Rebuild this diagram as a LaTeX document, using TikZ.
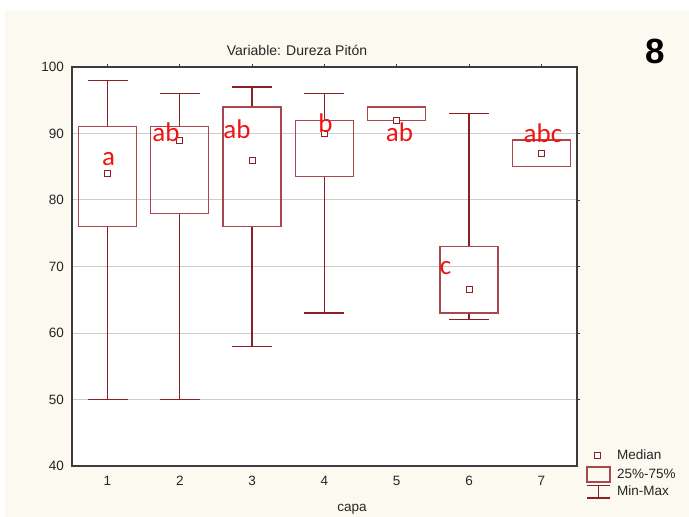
\documentclass[tikz,border=0pt]{standalone}
\usepackage{fontspec}
\setmainfont{Liberation Sans}
\newfontfamily\carlito{Carlito}
\definecolor{cream}{RGB}{252,249,240}
\definecolor{boxred}{RGB}{170,70,78}
\definecolor{whiskred}{RGB}{140,30,38}
\definecolor{gridgray}{RGB}{205,205,205}
\definecolor{framegray}{RGB}{60,60,60}
\definecolor{lettred}{RGB}{240,20,20}
\tikzset{
  boxline/.style={draw=boxred, line width=1.3bp},
  whiskline/.style={draw=whiskred, line width=1.3bp},
  medsq/.style={draw=whiskred, fill=white, line width=1bp},
  lbl/.style={font=\fontsize{13.5bp}{15bp}\selectfont, text=black!85, inner sep=0},
  grp/.style={font=\carlito\fontsize{27bp}{30bp}\selectfont, text=lettred, inner sep=0, anchor=base},
}
\begin{document}
\begin{tikzpicture}[x=1bp, y=-1bp]
\useasboundingbox (0,0) rectangle (689,517);
\fill[white] (0,0) rectangle (689,517);
\fill[cream] (5,10) rectangle (689,517);
% plot area
\fill[white] (72,67) rectangle (577,466);
\foreach \v in {50,60,70,80,90}{
  \draw[gridgray, line width=1bp] (72,{732-6.65*\v}) -- (577,{732-6.65*\v});
  \draw[framegray, line width=0.8bp] (577,{732-6.65*\v}) -- (580,{732-6.65*\v});
}
% axis tick labels
\foreach \v in {40,50,...,100}{
  \node[lbl, anchor=east] (yl\v) at (64,{732-6.65*\v}) {\v};
}
\foreach \i in {1,...,7}{
  \node[lbl] (xl\i) at ({107.5+72.3*(\i-1)},481) {\i};
  \draw[framegray, line width=0.8bp] ({107.5+72.3*(\i-1)},67) -- ({107.5+72.3*(\i-1)},64);
}
% boxes: cx/min/q1/med/q3/max
\foreach \cx/\mn/\qa/\md/\qb/\mx in {
  107.5/50/76/84/91/98,
  179.8/50/78/89/91/96,
  252.1/58/76/86/94/97,
  324.4/63/83.5/90/92/96,
  396.7/92/92/92/94/94,
  469/62/63/66.5/73/93,
  541.3/85/85/87/89/89}{
  \draw[whiskline] (\cx,{732-6.65*\qb}) -- (\cx,{732-6.65*\mx});
  \draw[whiskline] (\cx,{732-6.65*\qa}) -- (\cx,{732-6.65*\mn});
  \draw[whiskline] ({\cx-20},{732-6.65*\mx}) -- ({\cx+20},{732-6.65*\mx});
  \draw[whiskline] ({\cx-20},{732-6.65*\mn}) -- ({\cx+20},{732-6.65*\mn});
  \draw[boxline] ({\cx-29},{732-6.65*\qa}) rectangle ({\cx+29},{732-6.65*\qb});
  \draw[medsq] ({\cx-3},{732-6.65*\md-3}) rectangle ({\cx+3},{732-6.65*\md+3});
}
% frame
\draw[framegray, line width=1.3bp] (72,67) rectangle (577,466);
% group letters
\node[grp] (g1) at (108.5,166) {a};
\node[grp] (g2) at (166,141.7) {ab};
\node[grp] (g3) at (237,139) {ab};
\node[grp] (g4) at (325.5,133) {b};
\node[grp] (g5) at (399.5,142) {ab};
\node[grp] (g6) at (445.5,275) {c};
\node[grp] (g7) at (543,143) {abc};
% titles
\node[font=\fontsize{14bp}{16bp}\selectfont, text=black!85, inner sep=0, anchor=base] (title) at (297,56) {Variable: Dureza Pitón};
\node[font=\bfseries\fontsize{35bp}{40bp}\selectfont, inner sep=0] (num) at (655,51) {8};
\node[lbl] (xtitle) at (352,509) {capa};
% legend
\draw[medsq] (594,452) rectangle (600,458);
\node[lbl, anchor=west] (lm) at (617,455) {Median};
\draw[boxline] (587,467) rectangle (610,482);
\node[lbl, anchor=west] (lb) at (617,474) {25\%-75\%};
\draw[whiskline] (587,485.5) -- (610,485.5);
\draw[whiskline] (598.5,485.5) -- (598.5,498);
\draw[whiskline] (587,498) -- (610,498);
\node[lbl, anchor=west] (lw) at (617,491) {Min-Max};
\end{tikzpicture}
\end{document}
